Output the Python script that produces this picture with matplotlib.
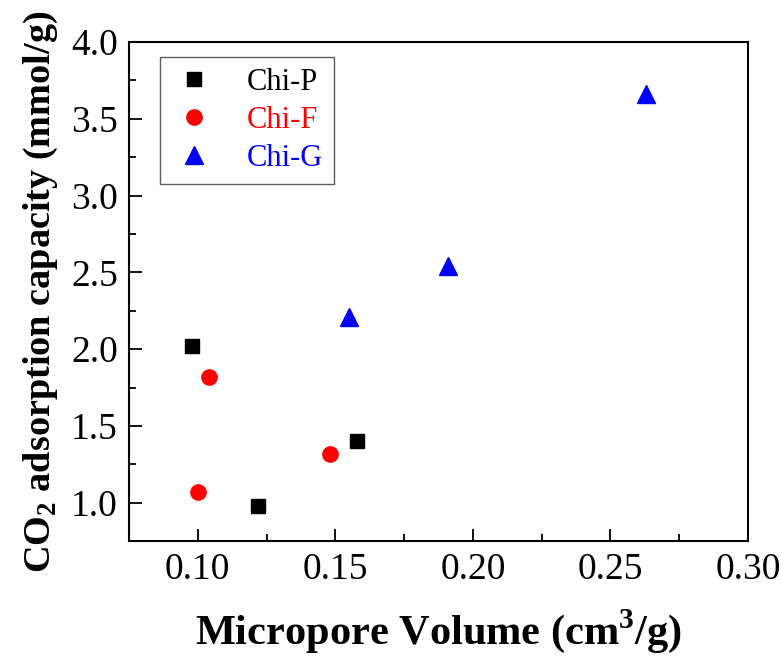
import matplotlib.pyplot as plt
from matplotlib.ticker import MultipleLocator

# micropore volume (cm3/g) vs CO2 uptake (mmol/g)
chi_p_x = [0.098, 0.122, 0.158]
chi_p_y = [2.02, 0.98, 1.40]
chi_f_x = [0.104, 0.100, 0.148]
chi_f_y = [1.82, 1.07, 1.32]
chi_g_x = [0.155, 0.191, 0.263]
chi_g_y = [2.21, 2.54, 3.66]

series_names = ['Chi-P', 'Chi-F', 'Chi-G']
series_colors = ['black', 'red', 'blue']


def main():
    plt.rcParams['font.family'] = ['Liberation Serif', 'DejaVu Serif']
    plt.rcParams['mathtext.fontset'] = 'custom'
    plt.rcParams['mathtext.rm'] = 'Liberation Serif'
    plt.rcParams['mathtext.bf'] = 'Liberation Serif:bold'

    fig = plt.figure(figsize=(7.82, 6.56), dpi=100)
    ax = fig.add_axes([0.165, 0.175, 0.7915, 0.761])

    ax.plot(chi_p_x, chi_p_y, 's', color=series_colors[0], markersize=10,
            linestyle='none', label=series_names[0])
    ax.plot(chi_f_x, chi_f_y, 'o', color=series_colors[1], markersize=11,
            linestyle='none', label=series_names[1])
    ax.plot(chi_g_x, chi_g_y, '^', color=series_colors[2], markersize=13,
            linestyle='none', label=series_names[2])

    ax.set_xlim(0.075, 0.30)
    ax.set_ylim(0.75, 4.0)
    ax.xaxis.set_major_locator(MultipleLocator(0.05))
    ax.xaxis.set_minor_locator(MultipleLocator(0.025))
    ax.yaxis.set_major_locator(MultipleLocator(0.5))
    ax.yaxis.set_minor_locator(MultipleLocator(0.25))
    ax.xaxis.set_major_formatter(plt.FormatStrFormatter('%.2f'))
    ax.yaxis.set_major_formatter(plt.FormatStrFormatter('%.1f'))

    ax.tick_params(which='both', direction='in', top=False, right=False,
                   width=1.3, labelsize=27, pad=8)
    ax.tick_params(which='major', length=9)
    ax.tick_params(which='minor', length=5)
    for s in ax.spines.values():
        s.set_linewidth(1.5)

    ax.set_xlabel(r'Micropore Volume (cm$^\mathbf{3}$/g)', fontsize=30.5,
                  fontweight='bold', labelpad=15)
    ax.set_ylabel(r'CO$_\mathbf{2}$ adsorption capacity (mmol/g)', fontsize=27.5,
                  fontweight='bold', labelpad=8)

    leg = ax.legend(loc='upper left', bbox_to_anchor=(0.05, 0.97), fontsize=22,
                    frameon=True, fancybox=False, edgecolor='#333333',
                    handletextpad=1.0, borderpad=0.35, labelspacing=0.3,
                    handlelength=1.5, borderaxespad=0)
    leg.get_frame().set_linewidth(1.0)
    for txt, c in zip(leg.get_texts(), series_colors):
        txt.set_color(c)

    fig.savefig('out.png', dpi=100)


if __name__ == "__main__":
    main()
